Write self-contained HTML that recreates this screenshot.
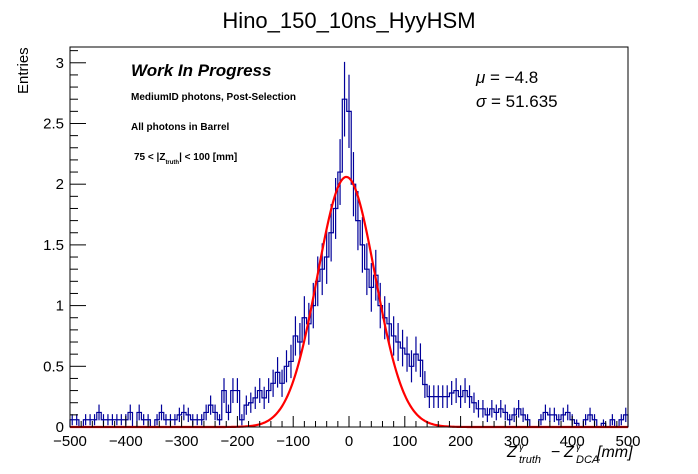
<!DOCTYPE html>
<html><head><meta charset="utf-8"><style>
body{margin:0;background:#fff;}
svg{display:block;font-family:"Liberation Sans",Arial,sans-serif;}
</style></head><body>
<svg id="c" width="698" height="474">
<text x="349" y="28" font-size="22" text-anchor="middle">Hino_150_10ns_HyyHSM</text>
<text transform="translate(28,94) rotate(-90)" font-size="15">Entries</text>
<text x="131" y="76" font-size="17" font-weight="bold" font-style="italic">Work In Progress</text>
<text x="131" y="100" font-size="10" font-weight="bold">MediumID photons, Post-Selection</text>
<text x="131" y="130" font-size="10" font-weight="bold">All photons in Barrel</text>
<text x="134" y="160" font-size="10" font-weight="bold">75 &lt; |Z<tspan font-size="6" dy="4">truth</tspan><tspan dy="-4">| &lt; 100 [mm]</tspan></text>
<text x="476" y="83" font-size="17"><tspan font-style="italic">μ</tspan> = −4.8</text>
<text x="476" y="107" font-size="17"><tspan font-style="italic">σ</tspan> = 51.635</text>
<g font-style="italic">
<text x="507" y="457" font-size="16">Z</text>
<text x="519" y="463" font-size="11">truth</text>
<text x="519" y="450" font-size="10">γ</text>
<text x="551" y="457" font-size="16" font-style="normal">−</text>
<text x="564" y="457" font-size="16">Z</text>
<text x="576" y="463" font-size="11">DCA</text>
<text x="576" y="450" font-size="10">γ</text>
<text x="597" y="457" font-size="16">[mm]</text>
</g>
<g id="plot"></g>
</svg>
<script>
const values=[0.06,0.06,0,0.06,0.06,
0.06,0.12,0.06,0.06,0.06,
0.06,0.06,0.06,0.12,0,
0.12,0.06,0.06,0,0.06,
0.12,0.06,0.06,0.06,0.1,
0.12,0.1,0.06,0.06,0.06,
0.12,0.18,0.12,0.06,0.3,
0.12,0.3,0.3,0.06,0.18,
0.2,0.24,0.3,0.24,0.3,
0.36,0.45,0.36,0.5,0.54,
0.75,0.7,0.9,0.85,1.0,
1.2,1.3,1.4,1.6,1.8,
2.1,2.7,2.6,2.0,1.7,
1.5,1.3,1.15,1.25,1.0,
0.9,0.85,0.75,0.7,0.65,
0.6,0.5,0.6,0.55,0.35,
0.25,0.25,0.25,0.25,0.25,
0.28,0.3,0.25,0.3,0.25,
0.2,0.15,0.15,0.1,0.15,
0.12,0.15,0.12,0.06,0.1,
0.15,0.1,0.06,0,0,
0.06,0.12,0.1,0.1,0.06,
0.1,0.12,0.06,0.03,0,
0.06,0.1,0.06,0,0.03,
0,0.06,0,0.06,0.1];
const xRange=[-500,500];
const yRange=[0,3.13];
const xTicks=[-500,-400,-300,-200,-100,0,100,200,300,400,500];
const yTicks=[0,0.5,1,1.5,2,2.5,3];
const fitParams=[2.06,-4.8,51.635];
const L=70,R=628,B=427,T=47;
const X=v=>L+(v-xRange[0])/(xRange[1]-xRange[0])*(R-L);
const Y=v=>B-(v-yRange[0])/(yRange[1]-yRange[0])*(B-T);
const g=document.getElementById('plot');const NS='http://www.w3.org/2000/svg';
function mk(t,a,p){const e=document.createElementNS(NS,t);for(const k in a)e.setAttribute(k,a[k]);(p||g).appendChild(e);return e;}
const w=(xRange[1]-xRange[0])/values.length;
values.forEach((v,i)=>{if(v<=0)return;const c=xRange[0]+(i+0.5)*w;const er=Math.sqrt(v*0.035);
const e=mk('line',{x1:X(c),x2:X(c),y1:Y(Math.max(0,v-er)),y2:Y(v+er),stroke:'#00009a','stroke-width':1.2});

});
let d='M'+X(xRange[0])+' '+Y(0);
values.forEach((v,i)=>{d+=' L'+X(xRange[0]+i*w)+' '+Y(v)+' L'+X(xRange[0]+(i+1)*w)+' '+Y(v);});
d+=' L'+X(xRange[1])+' '+Y(0);
const h=mk('path',{d:d,fill:'none',stroke:'#00009a','stroke-width':1.2});


let f='';for(let x=xRange[0];x<=xRange[1];x+=2){const y=fitParams[0]*Math.exp(-0.5*Math.pow((x-fitParams[1])/fitParams[2],2));f+=(f?' L':'M')+X(x)+' '+Y(y);}
const fl=mk('path',{d:f,fill:'none',stroke:'#ff0000','stroke-width':2.2});


const fr=mk('rect',{x:L,y:T,width:R-L,height:B-T,fill:'none',stroke:'#000','stroke-width':1});


xTicks.forEach((t,i)=>{mk('line',{x1:X(t),x2:X(t),y1:B,y2:B-11,stroke:'#000'});
const lb=mk('text',{x:X(t),y:B+19,'font-size':15,'text-anchor':'middle'});lb.textContent=(t<0?'−':'')+Math.abs(t);


if(i<xTicks.length-1)for(let k=1;k<5;k++){const m=t+k*20;mk('line',{x1:X(m),x2:X(m),y1:B,y2:B-6,stroke:'#000'});}});
yTicks.forEach(t=>{mk('line',{x1:L,x2:L+16,y1:Y(t),y2:Y(t),stroke:'#000'});
const lb=mk('text',{x:L-6,y:Y(t)+5,'font-size':15,'text-anchor':'end'});lb.textContent=t;


for(let k=1;k<5;k++){const m=t+k*0.1;if(m<yRange[1])mk('line',{x1:L,x2:L+8,y1:Y(m),y2:Y(m),stroke:'#000'});}});
</script>
</body></html>
